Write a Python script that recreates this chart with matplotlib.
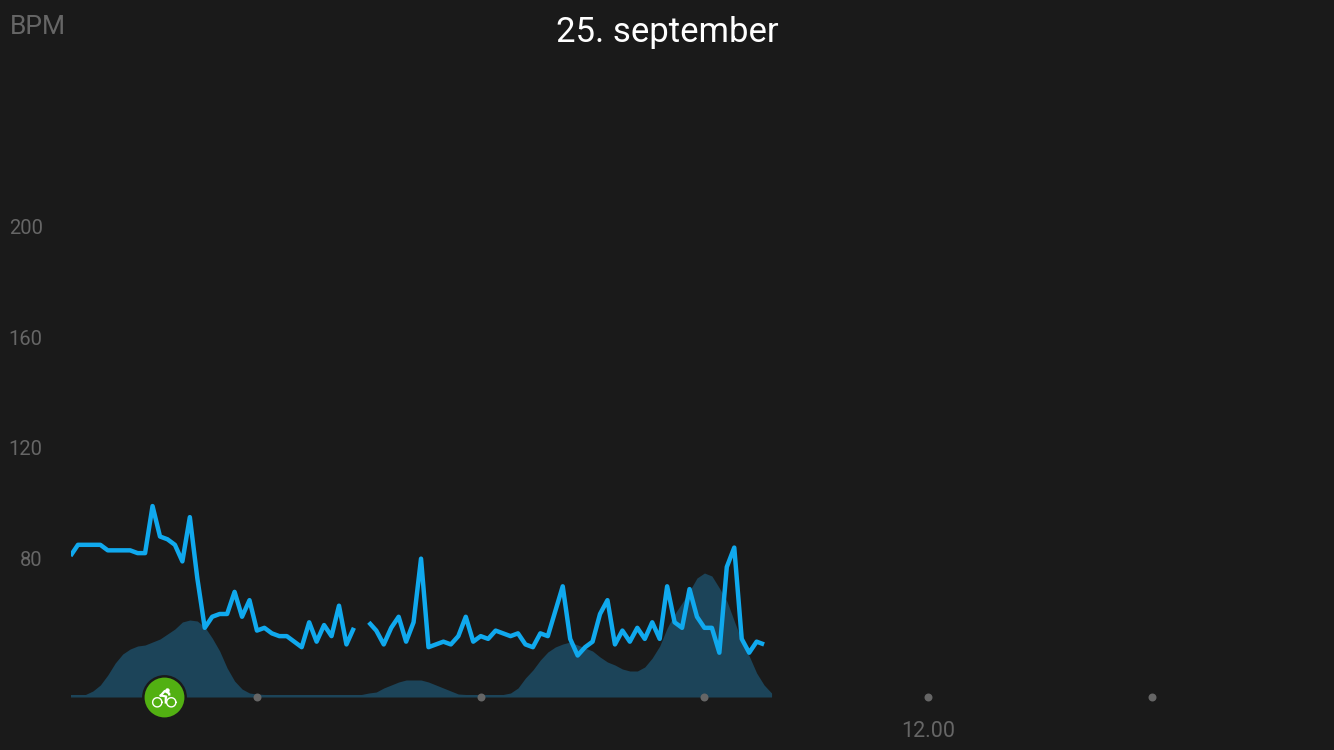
import numpy as np
import matplotlib
matplotlib.use('Agg')
import matplotlib.pyplot as plt
from matplotlib.transforms import Affine2D

# puls hver 6. minutt fra 00.30, nan = hull i kurven
puls = [81, 85, 85, 85, 85, 83, 83, 83, 83, 82, 82, 99, 88, 87, 85, 79, 95, 73, 55, 59,
        60, 60, 68, 59, 65, 54, 55, 53, 52, 52, 50, 48, 57, 50, 56, 52, 63, 49, 55, np.nan,
        57, 54, 49, 55, 59, 50, 57, 80, 48, 49, 50, 49, 52, 59, 50, 52, 51, 54, 53, 52,
        53, 49, 48, 53, 52, 61, 70, 51, 45, 48, 50, 60, 65, 49, 54, 50, 55, 51, 57, 51,
        70, 57, 55, 69, 59, 55, 55, 46, 77, 84, 51, 46, 50, 49]

# bakgrunnsflaten, samme tidssteg, en kurve til under
flate = [2.5, 2.5, 2.5, 6, 12, 22, 34, 43, 48, 51, 52, 55, 58, 63, 68, 75, 77, 76, 70, 59,
         46, 29, 16, 8, 4, 3, 2.5, 2.5, 2.5, 2.5, 2.5, 2.5, 2.5, 2.5, 2.5, 2.5, 2.5, 2.5, 2.5, 2.5,
         4, 5, 9, 12, 15, 17, 17, 17, 15, 12, 9, 6, 3, 2.5, 2.5, 2.5, 2.5, 2.5, 2.5, 4,
         9, 19, 27, 37, 45, 50, 53, 55, 52, 49, 46, 40, 35, 32, 28, 26, 26, 30, 39, 51,
         69, 83, 94, 106, 119, 124, 121, 109, 96, 76, 56, 41, 24, 12, 4]

start_t = 0.5
steg = 0.1
y_ticks = [80, 120, 160, 200]
x_ticks = [3, 6, 9, 12, 15]
x_labels = ['', '', '', '12.00', '']
tittel = '25. september'
enhet = 'BPM'
sykkel_t = 1.757

BG = '#1a1a1a'
GRA = '#666666'
BLA = '#10a9ee'
FLATE = '#1c4459'
GRONN = '#52b012'

plt.rcParams['font.family'] = ['Roboto', 'DejaVu Sans']

W, H = 1334, 750
fig = plt.figure(figsize=(W / 100, H / 100), dpi=100, facecolor=BG)

# aksene går fra x=70 og ned til grunnlinja y=697
ax = fig.add_axes([70.5 / W, (H - 697) / H, (W - 70.5) / W, 697 / H])
ax.set_xlim(start_t, start_t + (W - 70.5) / 74.58)
ax.set_ylim(30, 30 + 697 / 2.767)

t_puls = start_t + steg * np.arange(len(puls))
t_flate = start_t + steg * np.arange(len(flate))

# flaten har egen skala
ax2 = ax.twinx()
ax2.set_ylim(0, 697)
ax2.fill_between(t_flate, 0, flate, color=FLATE, lw=0)
ax2.axis('off')
ax2.set_zorder(1)
ax.set_zorder(2)
ax.patch.set_visible(False)
fig.patch.set_facecolor(BG)

ax.plot(t_puls, puls, color=BLA, lw=3.2, solid_joinstyle='round', solid_capstyle='butt')

for s in ax.spines.values():
    s.set_visible(False)
ax.set_yticks(y_ticks)
ax.set_xticks(x_ticks)
ax.set_xticklabels(x_labels)
ax.tick_params(axis='y', length=0, pad=20, labelsize=14.5, labelcolor=GRA)
ax.tick_params(axis='x', length=0, pad=17, labelsize=15.5, labelcolor=GRA)

# prikkene på tidsaksen
ax.scatter(x_ticks, [30] * len(x_ticks), s=33, color=GRA, lw=0, clip_on=False, zorder=3)

# sykkelmerket
ax.scatter([sykkel_t], [30], s=930, color=GRONN, edgecolors=BG, linewidths=1.8,
           clip_on=False, zorder=4)
cx, cy = ax.transData.transform((sykkel_t, 30))
ikon = Affine2D().translate(cx, cy)
teta = np.linspace(0, 2 * np.pi, 40)
for wx in (-7, 7):
    ax.plot(wx + 4.6 * np.cos(teta), -5.3 + 4.6 * np.sin(teta), color='white', lw=1.0,
            transform=ikon, clip_on=False, zorder=5)
ax.plot([-3.5, 0.5, 5, 5], [1.5, 6, 3.5, 2.5], color='white', lw=1.6, transform=ikon,
        clip_on=False, zorder=5)
ax.plot([-3.5, 2, 1.5, 1.5], [1.5, 0.5, -1.5, -5.5], color='white', lw=1.6, transform=ikon,
        clip_on=False, zorder=5)
ax.plot([2.6], [7.2], 'o', color='white', ms=3.2, mew=0, transform=ikon, clip_on=False, zorder=5)

fig.text(667.5 / W, 1 - 32.5 / H, tittel, color='white', fontsize=25, ha='center', va='center')
fig.text(10 / W, 1 - 27.5 / H, enhet, color=GRA, fontsize=19, ha='left', va='center')

fig.savefig('out.png', dpi=100, facecolor=BG)
